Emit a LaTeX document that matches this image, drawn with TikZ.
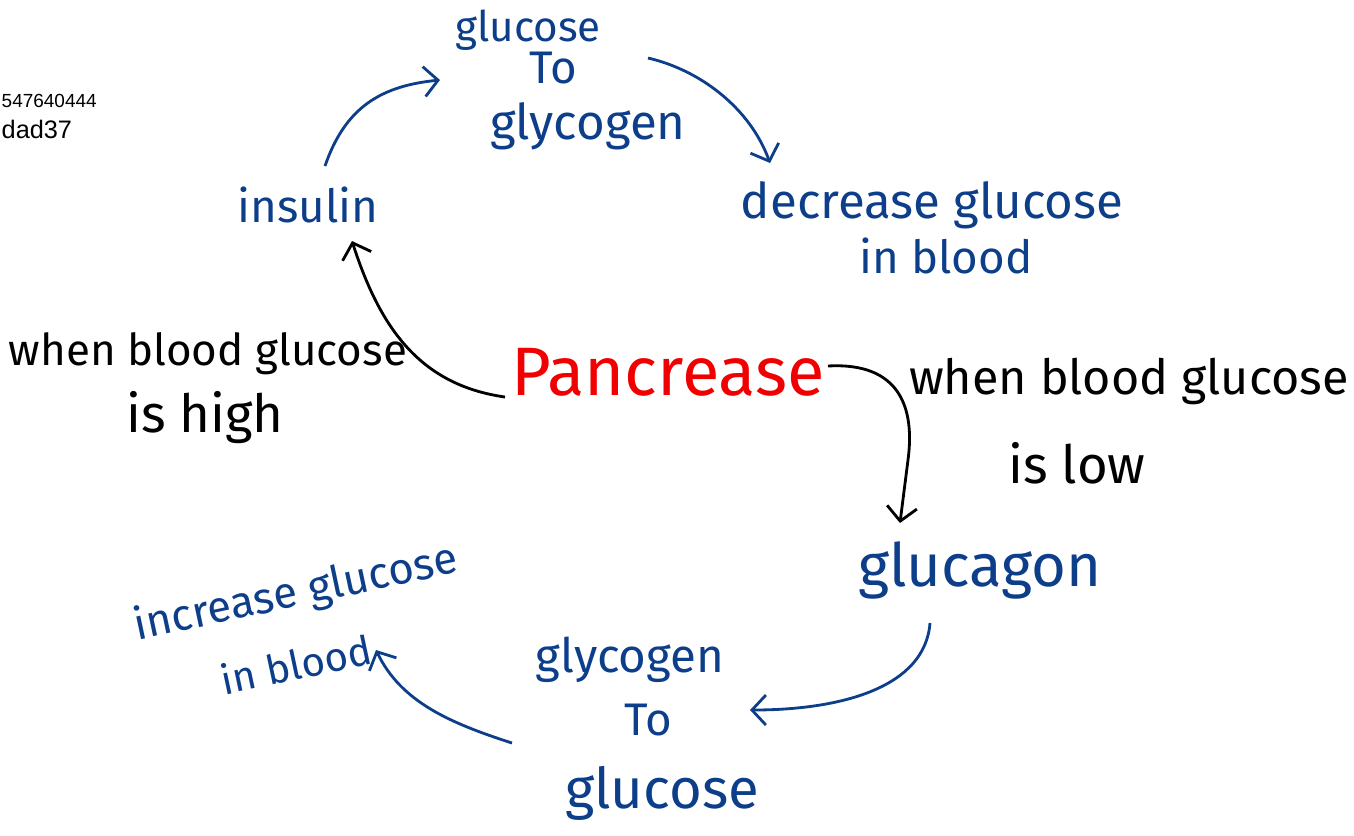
\documentclass[tikz,border=0pt]{standalone}
\usepackage{fontspec}
\setmainfont{Fira Sans}
\newfontfamily\idfont{Liberation Sans}
\usetikzlibrary{arrows.meta,calc}
\definecolor{ink}{RGB}{12,62,138}
\definecolor{pen}{RGB}{240,0,0}

\begin{document}
\begin{tikzpicture}[x=0.1mm,y=-0.1mm,
hw/.style={text=ink,inner sep=1pt,font=\fontsize{#1}{#1}\selectfont},hw/.default=14,
bk/.style={inner sep=1pt,font=\fontsize{#1}{#1}\selectfont},bk/.default=14,
blu/.style={draw=ink,line width=0.8pt,-{Straight Barb[length=1.4mm,width=3mm]}},
blk/.style={draw=black,line width=0.8pt,-{Straight Barb[length=1.4mm,width=3mm]}}]
\useasboundingbox (0,0) rectangle (1354,835);
\clip (0,0) rectangle (1354,835);
% id text in the corner
\node[inner sep=0pt,anchor=west,font=\idfont\fontsize{5.4}{6}\selectfont] (id1) at (1,101) {547640444};
\node[inner sep=0pt,anchor=west,font=\idfont\fontsize{7.2}{8}\selectfont] (id2) at (1,129) {dad37};
% top half
\node[hw=12] (gtg1) at (528,30) {glucose};
\node[hw=13] (gtg2) at (553,68) {To};
\node[hw=14] (gtg3) at (588,126) {glycogen};
\node[hw=13] (ins) at (308,205) {insulin};
\node[hw=14] (dec1) at (932,205) {decrease glucose};
\node[hw=13] (dec2) at (946,256) {in blood};
\node[inner sep=1pt,text=pen,font=\fontsize{19.5}{20}\selectfont] (pan) at (668,372) {Pancrease};
\node[bk=12.5] (high1) at (208,354) {when blood glucose};
\node[bk=15] (high2) at (205,418) {is high};
\node[bk=13.8,anchor=west] (low1) at (905,381) {when blood glucose};
\node[bk=15] (low2) at (1077,463) {is low};
% bottom half
\node[hw=17] (glu) at (980,570) {glucagon};
\node[hw=13.5] (gtl1) at (630,660) {glycogen};
\node[hw=13] (gtl2) at (648,720) {To};
\node[hw=16] (gtl3) at (662,793) {glucose};
\node[hw=12.5,rotate=12] (inc1) at (296,594) {increase glucose};
\node[hw=11.5,rotate=12] (inc2) at (296,664) {in blood};
% arrows
\draw[blu] ($(ins)+(17,-39)$) .. controls +(20,-58) and +(-60,6) .. ($(gtg2)+(-113,12)$);
\draw[blu] ($(gtg1)+(120,28)$) .. controls +(52,12) and +(-20,-55) .. ($(dec1)+(-162,-42)$);
\draw[blk] ($(pan)+(-163,25)$) .. controls +(-85,-12) and +(28,87) .. ($(ins)+(44,36)$);
\draw[blk] ($(pan)+(160,-6)$) .. controls +(72,-4) and +(7,-52) .. ($(glu)+(-72,-110)$) -- ($(glu)+(-80,-47)$);
\draw[blu] ($(glu)+(-50,53)$) .. controls +(-5,65) and +(90,0) .. ($(gtl2)+(102,-10)$);
\draw[blu] ($(gtl2)+(-136,23)$) .. controls +(-62,-20) and +(25,52) .. ($(inc2)+(80,-14)$);
\end{tikzpicture}
\end{document}
